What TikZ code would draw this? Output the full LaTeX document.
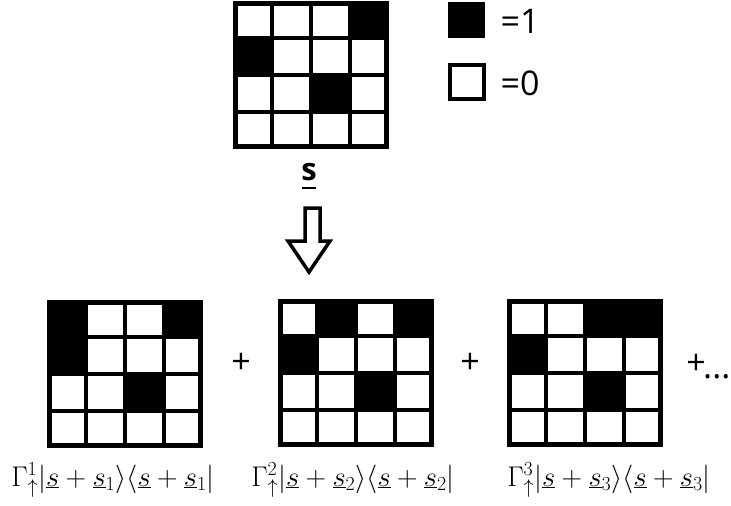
\RequirePackage{fix-cm}
\documentclass[tikz,border=0pt]{standalone}
\usepackage{fontspec}
\usepackage{graphicx}
\setsansfont{Open Sans}
\usetikzlibrary{calc}
\newcommand\cellgrid[3]{% #1 name, #2 position, #3 list of black cells col/row
  \begin{scope}[shift={#2}]
    \coordinate (#1) at (0,0);
    \foreach \c/\r in {#3} \fill[black] (\c*39,\r*37) rectangle ++(39,37);
    \foreach \k in {1,2,3} {
      \draw[innerline] (\k*39,0) -- (\k*39,148);
      \draw[innerline] (0,\k*37) -- (156,\k*37);
    }
    \draw[outerline] (2.5,2.5) rectangle (153.5,145.5);
  \end{scope}}
\newcommand\ketlabel[1]{\scalebox{1.14}{$\Gamma^{#1}_\uparrow|\underline{s}+\underline{s}_{#1}\rangle\langle\underline{s}+\underline{s}_{#1}|$}}
\begin{document}
\begin{tikzpicture}[x=1pt,y=-1pt,
  innerline/.style={line width=4pt},
  outerline/.style={line width=5pt},
  sanslabel/.style={font=\sffamily\fontsize{34}{38}\selectfont, inner sep=0pt},
  mathlabel/.style={font=\fontsize{25}{29}\selectfont, inner sep=0pt, anchor=base},
  hollowarrow/.style={line width=3.5pt, line join=miter, fill=white}]
\useasboundingbox (0,0) rectangle (731,506);
% top grid
\cellgrid{top}{(233,1)}{3/0,0/1,2/2}
% legend
\fill[black] (448,2) rectangle (485,38);
\draw[line width=4pt] (450,65) rectangle (484,99);
\node[sanslabel] (one) at (520,21) {=1};
\node[sanslabel] (zero) at (520,83) {=0};
% s label
\node[font=\sffamily\bfseries\fontsize{31}{34}\selectfont, inner sep=0pt, anchor=base] (slabel) at (309,180) {s};
\draw[line width=2pt] ($(slabel.base)+(-7,8)$) -- ($(slabel.base)+(7,8)$);
% hollow arrow
\draw[hollowarrow] (305,208) -- (320,208) -- (320,241) -- (330,241) -- (309,272) -- (288,241) -- (305,241) -- cycle;
% bottom grids
\cellgrid{g1}{(47,300)}{0/0,3/0,0/1,2/2}
\cellgrid{g2}{(278,299)}{1/0,3/0,0/1,2/2}
\cellgrid{g3}{(507,299)}{2/0,3/0,0/1,2/2}
% plus signs
\node[sanslabel] (p1) at (241,363) {+};
\node[sanslabel] (p2) at (470,363) {+};
\node[sanslabel] (p3) at (696,364) {+};
\node[sanslabel, anchor=base west] (dots) at (703,378) {...};
% labels
\node[mathlabel] (l1) at (113,486) {\ketlabel{1}};
\node[mathlabel] (l2) at (353,486) {\ketlabel{2}};
\node[mathlabel] (l3) at (609,486) {\ketlabel{3}};
\end{tikzpicture}
\end{document}
